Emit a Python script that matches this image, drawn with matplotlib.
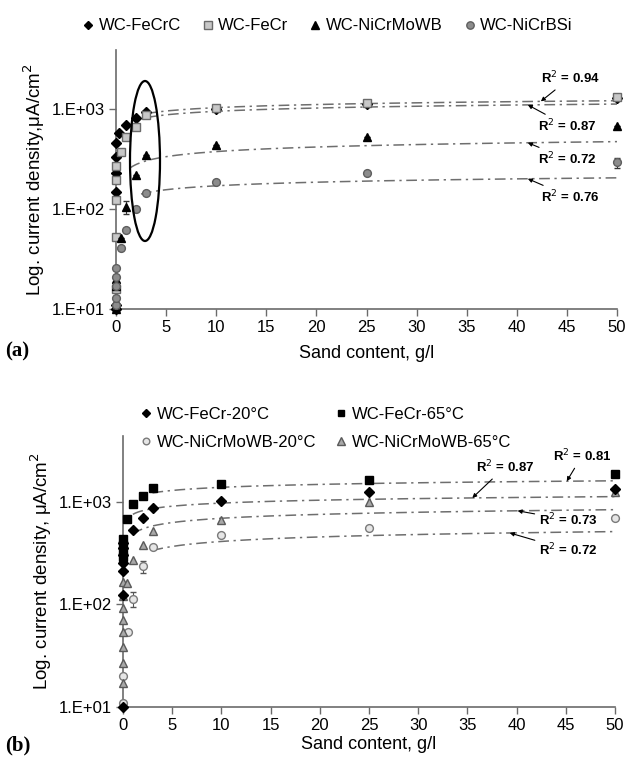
import numpy as np
import matplotlib
matplotlib.use("Agg")
import matplotlib.pyplot as plt
from matplotlib.patches import Ellipse

plt.rcParams['font.family'] = ['Liberation Sans', 'DejaVu Sans']

# ---------------- Panel (a) data ----------------
a_names = ["WC-FeCrC", "WC-FeCr", "WC-NiCrMoWB", "WC-NiCrBSi"]
a_fecrc_x = [0, 0, 0, 0, 0, 0, 0.3, 1, 2, 3, 10, 25, 50]
a_fecrc_y = [10, 11, 148, 230, 330, 460, 575, 690, 810, 930, 1000, 1120, 1300]
a_fecr_x = [0, 0, 0, 0, 0, 0.5, 1, 2, 3, 10, 25, 50]
a_fecr_y = [16, 53, 123, 195, 270, 375, 525, 665, 870, 1015, 1150, 1320]
a_nicrmowb_x = [0, 0, 0, 0.5, 1, 2, 3, 10, 25, 50]
a_nicrmowb_y = [10, 17, 20, 51, 105, 220, 345, 440, 520, 670]
a_nicrmowb_err = [0, 0, 0, 0, 15, 0, 0, 0, 0, 0]
a_nicrbsi_x = [0, 0, 0, 0, 0, 0.5, 1, 2, 3, 10, 25, 50]
a_nicrbsi_y = [11, 13, 17, 21, 26, 41, 62, 100, 146, 187, 230, 292]
a_nicrbsi_err = [0, 0, 0, 0, 0, 0, 0, 0, 0, 0, 0, 35]
# logarithmic trend lines y = A*ln(x) + B
a_trend_A = [111, 107, 60, 21.3]
a_trend_B = [776, 702, 237, 121.6]
a_trend_x0 = [3.0, 3.0, 1.4, 2.5]
a_r2 = ["0.94", "0.87", "0.72", "0.76"]

# ---------------- Panel (b) data ----------------
b_names = ["WC-FeCr-20°C", "WC-FeCr-65°C", "WC-NiCrMoWB-20°C", "WC-NiCrMoWB-65°C"]
b_fecr20_x = [0, 0, 0, 0, 0, 0, 0, 1, 2, 3, 10, 25, 50]
b_fecr20_y = [10, 124, 210, 250, 300, 350, 400, 525, 690, 870, 1020, 1230, 1340]
b_fecr65_x = [0, 0, 0, 0, 0.45, 1, 2, 3, 10, 25, 50]
b_fecr65_y = [290, 330, 380, 430, 675, 950, 1140, 1350, 1500, 1630, 1870]
b_nicr20_x = [0, 0, 0.5, 1, 2, 3, 10, 25, 50]
b_nicr20_y = [11, 20, 54, 113, 234, 360, 475, 560, 690]
b_nicr20_err = [0, 0, 0, 18, 30, 0, 0, 0, 0]
b_nicr65_x = [0, 0, 0, 0, 0, 0, 0, 0, 0.4, 1, 2, 3, 10, 25, 50]
b_nicr65_y = [17, 27, 38, 54, 70, 93, 120, 165, 163, 268, 380, 520, 665, 1000, 1230]
b_trend_A = [135, 94, 91, 63]
b_trend_B = [1070, 753, 480, 265]
b_trend_x0 = [3.0, 1.0, 1.0, 3.0]
b_r2 = ["0.81", "0.87", "0.73", "0.72"]

W, H = 628, 763
fig = plt.figure(figsize=(W / 100, H / 100), dpi=100)

def px_axes(l, r, t, b):
    return fig.add_axes([l / W, 1 - b / H, (r - l) / W, (b - t) / H])

axA = px_axes(116, 617, 50, 309)
axB = px_axes(123, 615, 436, 707)

spine_col = "#6b6b6b"
trend_col = "#6e6e6e"
trend_ls = (0, (7, 3, 1.5, 3))

def style_axes(ax, ytop, ylabel, xpad, ysize):
    ax.set_yscale('log')
    ax.set_xlim(0, 50)
    ax.set_ylim(10, ytop)
    for s in ['top', 'right']:
        ax.spines[s].set_visible(False)
    for s in ['left', 'bottom']:
        ax.spines[s].set_color(spine_col)
        ax.spines[s].set_linewidth(1.2)
    ax.set_xticks(np.arange(0, 51, 5))
    ax.set_yticks([10, 100, 1000])
    ax.set_yticklabels(["1.E+01", "1.E+02", "1.E+03"])
    ax.yaxis.set_minor_locator(matplotlib.ticker.NullLocator())
    ax.tick_params(axis='both', which='major', direction='out', length=5,
                   color=spine_col, labelsize=12, width=1.0, pad=3)
    ax.set_xlabel("Sand content, g/l", fontsize=13, labelpad=xpad)
    ax.set_ylabel(ylabel, fontsize=ysize, labelpad=3)

style_axes(axA, 10 ** 3.59, "Log. current density,μA/cm$^2$", 7, 13.5)
style_axes(axB, 10 ** 3.64, "Log. current density, μA/cm$^2$", 2, 13.5)

def trend(ax, A, B, x0):
    xs = np.linspace(x0, 50, 200)
    ax.plot(xs, A * np.log(xs) + B, color=trend_col, lw=1.1, ls=trend_ls, zorder=2)

# ---- Panel (a) ----
for A, B, x0 in zip(a_trend_A, a_trend_B, a_trend_x0):
    trend(axA, A, B, x0)

a_styles = [
    dict(marker='D', ms=4.6, mfc='black', mec='black'),
    dict(marker='s', ms=5.6, mfc='#c8c8c8', mec='#6a6a6a', mew=1.0),
    dict(marker='^', ms=6, mfc='black', mec='black'),
    dict(marker='o', ms=5.6, mfc='#8c8c8c', mec='#5e5e5e', mew=1.0),
]
a_series = [(a_fecrc_x, a_fecrc_y, None), (a_fecr_x, a_fecr_y, None),
            (a_nicrmowb_x, a_nicrmowb_y, a_nicrmowb_err),
            (a_nicrbsi_x, a_nicrbsi_y, a_nicrbsi_err)]
handlesA = []
order_z = [3, 4, 5, 5]
for (xs, ys, err), st, nm, z in zip(a_series, a_styles, a_names, order_z):
    if err is not None:
        axA.errorbar(xs, ys, yerr=err, fmt='none', ecolor='#333333', elinewidth=0.8,
                     capsize=2, zorder=z - 0.5, clip_on=False)
    h, = axA.plot(xs, ys, ls='none', zorder=z, clip_on=False, label=nm, **st)
    handlesA.append(h)

# ellipse (axes fraction): centre (145,161) px, 30 x 160 px
axA.add_patch(Ellipse(((145 - 116) / 501, (309 - 161) / 259), 30 / 501, 160 / 259,
                      transform=axA.transAxes, fill=False, ec='black', lw=1.6,
                      zorder=6, clip_on=False))

def ax_frac(px, py, l, r, t, b):
    return ((px - l) / (r - l), (b - py) / (b - t))

a_label_px = [(570, 78), (567, 126), (567, 159), (570, 197)]
a_tip_x = [42.4, 41.1, 41.1, 41.1]
for A, B, r2, p, tx in zip(a_trend_A, a_trend_B, a_r2, a_label_px, a_tip_x):
    axA.annotate("R$^2$ = " + r2, xy=(tx, A * np.log(tx) + B), xycoords='data',
                 xytext=ax_frac(p[0], p[1], 116, 617, 50, 309), textcoords='axes fraction',
                 ha='center', va='center', fontsize=9.5, fontweight='bold',
                 annotation_clip=False,
                 arrowprops=dict(arrowstyle='-|>', color='black', lw=0.8,
                                 mutation_scale=6, shrinkA=1, shrinkB=0))

fig.legend(handles=handlesA, loc='center', bbox_to_anchor=(0.518, 0.966), ncol=4,
           frameon=False, fontsize=12, handletextpad=0.05, columnspacing=1.0,
           handlelength=1.2, markerscale=0.95)

fig.text(5 / W, 1 - 351 / H, "(a)", fontsize=15, fontweight='bold',
         family=['Liberation Serif', 'DejaVu Serif'], va='center', ha='left')

# ---- Panel (b) ----
for A, B, x0 in zip(b_trend_A, b_trend_B, b_trend_x0):
    trend(axB, A, B, x0)

b_styles = [
    dict(marker='D', ms=4.6, mfc='black', mec='black'),
    dict(marker='s', ms=5.8, mfc='black', mec='black'),
    dict(marker='o', ms=5.6, mfc='#e6e6e6', mec='#7a7a7a', mew=1.0),
    dict(marker='^', ms=6, mfc='#a8a8a8', mec='#5a5a5a', mew=1.0),
]
b_series = [(b_fecr20_x, b_fecr20_y, None), (b_fecr65_x, b_fecr65_y, None),
            (b_nicr20_x, b_nicr20_y, b_nicr20_err), (b_nicr65_x, b_nicr65_y, None)]
handlesB = []
zb = [5, 4, 3, 4.5]
for (xs, ys, err), st, nm, z in zip(b_series, b_styles, b_names, zb):
    if err is not None:
        axB.errorbar(xs, ys, yerr=err, fmt='none', ecolor='#555555', elinewidth=0.8,
                     capsize=2, zorder=z - 0.5, clip_on=False)
    h, = axB.plot(xs, ys, ls='none', zorder=z, clip_on=False, label=nm, **st)
    handlesB.append(h)

b_label_px = [(582, 456), (505, 467), (568, 520), (568, 550)]
b_tip_x = [45.1, 35.5, 40.1, 39.3]
for A, B, r2, p, tx in zip(b_trend_A, b_trend_B, b_r2, b_label_px, b_tip_x):
    axB.annotate("R$^2$ = " + r2, xy=(tx, A * np.log(tx) + B), xycoords='data',
                 xytext=ax_frac(p[0], p[1], 123, 615, 436, 707), textcoords='axes fraction',
                 ha='center', va='center', fontsize=9.5, fontweight='bold',
                 annotation_clip=False,
                 arrowprops=dict(arrowstyle='-|>', color='black', lw=0.8,
                                 mutation_scale=6, shrinkA=1, shrinkB=0))

legB_order = [handlesB[0], handlesB[2], handlesB[1], handlesB[3]]
fig.legend(handles=legB_order, loc='center', bbox_to_anchor=(0.515, 0.4385), ncol=2,
           frameon=False, fontsize=12, handletextpad=0.05, columnspacing=0.9,
           handlelength=1.2, markerscale=0.85, labelspacing=0.8)

fig.text(5 / W, 1 - 745 / H, "(b)", fontsize=15, fontweight='bold',
         family=['Liberation Serif', 'DejaVu Serif'], va='center', ha='left')

fig.savefig("out.png", dpi=100)
